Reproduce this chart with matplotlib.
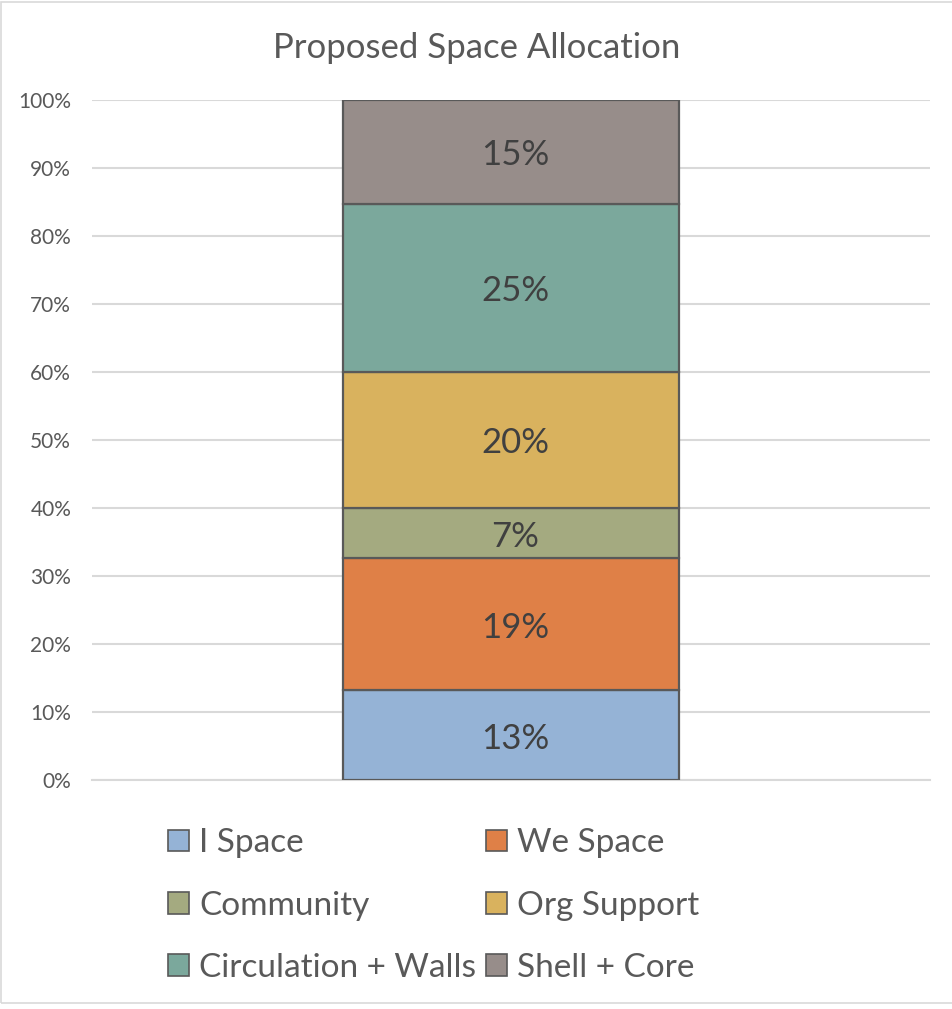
import matplotlib
matplotlib.use("Agg")
import matplotlib.pyplot as plt
from matplotlib.patches import Rectangle
from matplotlib.ticker import PercentFormatter

plt.rcParams['font.family'] = ['Lato', 'DejaVu Sans']

title = "Proposed Space Allocation"
categories = ["I Space", "We Space", "Community", "Org Support", "Circulation + Walls", "Shell + Core"]
values = [13.2, 19.4, 7.4, 20.0, 24.7, 15.3]
labels = ["13%", "19%", "7%", "20%", "25%", "15%"]
colors = ["#95B3D6", "#DF8047", "#A4AA80", "#D9B25E", "#7BA89C", "#978D8A"]
yticks = [0, 10, 20, 30, 40, 50, 60, 70, 80, 90, 100]

W, H = 953, 1009
fig = plt.figure(figsize=(W / 100, H / 100), dpi=100)
ax = fig.add_axes([92 / W, (H - 780) / H, (930 - 92) / W, 680 / H])

bottom = 0.0
for v, lab, c, name in zip(values, labels, colors, categories):
    ax.bar(0, v, width=0.4, bottom=bottom, color=c, edgecolor="#595959",
           linewidth=1.6, zorder=3, label=name)
    ax.text(0.005, bottom + v / 2 - 0.5, lab, ha="center", va="center",
            fontsize=25, color="#404040", zorder=4)
    bottom += v

ax.set_xlim(-0.5, 0.5)
ax.set_ylim(0, 100)
ax.set_yticks(yticks)
ax.yaxis.set_major_formatter(PercentFormatter(decimals=0))
ax.set_xticks([])
ax.tick_params(axis="y", length=0, pad=15, labelsize=15, labelcolor="#595959")
for s in ["top", "right", "left"]:
    ax.spines[s].set_visible(False)
ax.spines["bottom"].set_color("#D9D9D9")
ax.spines["bottom"].set_linewidth(1.5)
ax.yaxis.grid(True, color="#D9D9D9", linewidth=1.5, zorder=0)
ax.set_axisbelow(True)

fig.text(477 / W, 1 - 48 / H, title, ha="center", va="center",
         fontsize=25, color="#595959")

handles = [Rectangle((0, 0), 1, 1, facecolor=c, edgecolor="#595959", linewidth=1.2)
           for c in colors]
order = [0, 2, 4, 1, 3, 5]
leg = fig.legend([handles[i] for i in order], [categories[i] for i in order],
                 ncol=2, loc="upper left", bbox_to_anchor=(155 / W, 1 - 815 / H),
                 frameon=False, fontsize=24, labelcolor="#595959",
                 handlelength=0.62, handleheight=0.62, handletextpad=0.3,
                 columnspacing=0.3, labelspacing=0.97, borderaxespad=0)

border = Rectangle((0.5 / W, 1 - 1003 / H), 1.2, (1001) / H, transform=fig.transFigure,
                   fill=False, edgecolor="#D9D9D9", linewidth=1.2)
fig.patches.append(border)

fig.savefig("out.png", dpi=100, facecolor="white")
